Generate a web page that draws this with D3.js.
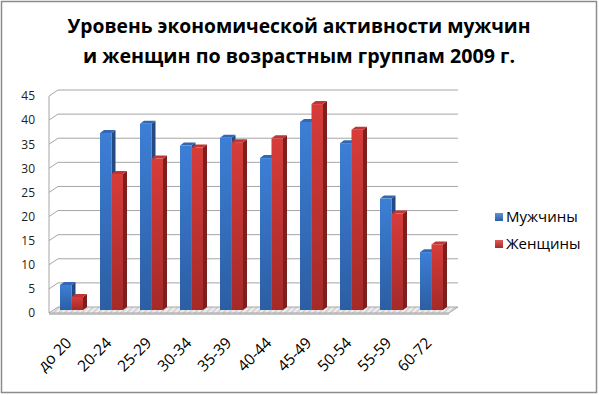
<!DOCTYPE html>
<html>
<head>
<meta charset="utf-8">
<script src="https://cdn.jsdelivr.net/npm/d3@7"></script>
<style>
  body { margin: 0; background: #fff; }
  svg { display: block; }
</style>
</head>
<body>
<svg id="chart" width="599" height="395"></svg>
<script>
const categories = ["до 20", "20-24", "25-29", "30-34", "35-39", "40-44", "45-49", "50-54", "55-59", "60-72"];
const men   = [5.2, 36.7, 38.6, 34.1, 35.7, 31.5, 39.0, 34.6, 23.1, 12.0];
const women = [2.7, 28.2, 31.4, 33.7, 34.8, 35.6, 42.7, 37.4, 20.0, 13.6];
const seriesNames = ["Мужчины", "Женщины"];
const yTicks = [0, 5, 10, 15, 20, 25, 30, 35, 40, 45];
const titleLines = ["Уровень экономической активности мужчин", "и женщин по возрастным группам 2009 г."];

const vis = {

    svg : d3.select("#chart"),

    font : "'Open Sans', 'Noto Sans', sans-serif",

    // front edge of the walls, depth of the walls and of the bars
    plot : { left : 49, right : 449, top0 : 313, depth : { dx : 9, dy : -6 }, bar : { dx : 4, dy : -3 } },

    scales : {

        x : null,
        sub : null,
        y : null,

        build : function() {

            const p = vis.plot;

            this.x = d3.scaleBand()
                .domain(categories)
                .range([p.left + 2.5, p.right + 2.5])
                .paddingInner(0.425)
                .paddingOuter(0.2125);

            this.sub = d3.scaleBand()
                .domain(seriesNames)
                .range([0, this.x.bandwidth()]);

            this.y = d3.scaleLinear()
                .domain([0, 45])
                .range([p.top0, 96]);
        }
    },

    defs : function() {

        const defs = this.svg.append("defs");

        const grads = [
            { id : "blueFront", c : ["#3d7fd6", "#2c5ea3"] },
            { id : "redFront", c : ["#d63c3a", "#a42a28"] },
            { id : "blueKey", c : ["#5b93dc", "#2c5ea3"] },
            { id : "redKey", c : ["#e05a57", "#a42a28"] }
        ];

        grads.forEach(g => {
            const lg = defs.append("linearGradient")
                .attr("id", g.id)
                .attr("x1", 0).attr("y1", 0).attr("x2", 0).attr("y2", 1);
            lg.append("stop").attr("offset", "0%").attr("stop-color", g.c[0]);
            lg.append("stop").attr("offset", "100%").attr("stop-color", g.c[1]);
        });

        const pat = defs.append("pattern")
            .attr("id", "floorHatch")
            .attr("width", 4).attr("height", 4)
            .attr("patternUnits", "userSpaceOnUse")
            .attr("patternTransform", "rotate(45)");
        pat.append("rect").attr("width", 4).attr("height", 4).attr("fill", "#d4d4d4");
        pat.append("rect").attr("width", 2).attr("height", 4).attr("fill", "#eeeeee");
    },

    frame : function() {

        this.svg.append("rect")
            .attr("x", 1.5).attr("y", 1.5)
            .attr("width", 595).attr("height", 391)
            .attr("fill", "#fff")
            .attr("stroke", "#8c8c8c")
            .attr("stroke-width", 1.5);
    },

    title : function() {

        this.svg.append("g")
            .selectAll("text")
            .data(titleLines)
            .join("text")
            .attr("x", 299)
            .attr("y", (d, i) => 33 + i * 30)
            .attr("text-anchor", "middle")
            .attr("font-family", this.font)
            .attr("font-weight", "bold")
            .attr("font-size", 20)
            .attr("textLength", (d, i) => i === 0 ? 463 : 432)
            .attr("lengthAdjust", "spacingAndGlyphs")
            .attr("fill", "#000")
            .text(d => d);
    },

    walls : function() {

        const p = this.plot, y = this.scales.y, d = p.depth;
        const g = this.svg.append("g");

        // floor
        g.append("polygon")
            .attr("points", [
                [p.left, y(0)], [p.right, y(0)],
                [p.right + d.dx, y(0) + d.dy], [p.left + d.dx, y(0) + d.dy]
            ].join(" "))
            .attr("fill", "url(#floorHatch)")
            .attr("stroke", "#a6a6a6")
            .attr("stroke-width", 1);

        g.append("line")
            .attr("x1", p.left).attr("x2", p.right)
            .attr("y1", y(0) + 1).attr("y2", y(0) + 1)
            .attr("stroke", "#b3b3b3").attr("stroke-width", 1.5);

        // grid lines on side and back wall
        const grid = yTicks.filter(t => t > 0);

        g.selectAll(".gside")
            .data(grid)
            .join("line")
            .attr("x1", p.left).attr("y1", t => y(t))
            .attr("x2", p.left + d.dx).attr("y2", t => y(t) + d.dy)
            .attr("stroke", "#a6a6a6");

        g.selectAll(".gback")
            .data(grid)
            .join("line")
            .attr("x1", p.left + d.dx).attr("y1", t => y(t) + d.dy)
            .attr("x2", p.right + d.dx).attr("y2", t => y(t) + d.dy)
            .attr("stroke", "#a6a6a6");

        g.append("line")
            .attr("x1", p.left).attr("x2", p.left)
            .attr("y1", y(45)).attr("y2", y(0))
            .attr("stroke", "#a6a6a6");
    },

    axes : function() {

        const p = this.plot, s = this.scales;

        const yAxis = this.svg.append("g")
            .attr("transform", "translate(" + (p.left - 10) + ",0)")
            .call(d3.axisLeft(s.y).tickValues(yTicks).tickSize(0).tickPadding(4));

        yAxis.select(".domain").remove();
        yAxis.selectAll("text")
            .attr("font-family", this.font)
            .attr("font-size", 12)
            .attr("fill", "#222");

        const xAxis = this.svg.append("g")
            .call(d3.axisBottom(s.x).tickSize(0));

        xAxis.select(".domain").remove();
        xAxis.selectAll("text")
            .attr("font-family", this.font)
            .attr("font-size", 15.5)
            .attr("fill", "#000")
            .attr("text-anchor", "end")
            .attr("y", 0)
            .attr("dy", 0)
            .attr("transform", "translate(1," + (p.top0 + 31) + ") rotate(-45)");
    },

    bars : function() {

        const s = this.scales, b = this.plot.bar;
        const base = this.plot.top0 + b.dy;
        const w = s.sub.bandwidth();

        const rows = [];
        categories.forEach((c, i) => {
            rows.push({ cat : c, key : seriesNames[0], v : men[i], front : "url(#blueFront)", top : "#3267b4", side : "#234a83" });
            rows.push({ cat : c, key : seriesNames[1], v : women[i], front : "url(#redFront)", top : "#c43432", side : "#7c1f1d" });
        });

        const g = this.svg.append("g");

        const bar = g.selectAll("g.bar")
            .data(rows)
            .join("g")
            .attr("class", "bar");

        const x0 = d => s.x(d.cat) + s.sub(d.key);
        const yt = d => s.y(d.v) + b.dy;

        bar.append("polygon")
            .attr("points", d => [
                [x0(d) + w, yt(d)], [x0(d) + w + b.dx, yt(d) + b.dy],
                [x0(d) + w + b.dx, base + b.dy], [x0(d) + w, base]
            ].join(" "))
            .attr("fill", d => d.side);

        bar.append("polygon")
            .attr("points", d => [
                [x0(d), yt(d)], [x0(d) + b.dx, yt(d) + b.dy],
                [x0(d) + w + b.dx, yt(d) + b.dy], [x0(d) + w, yt(d)]
            ].join(" "))
            .attr("fill", d => d.top);

        bar.append("rect")
            .attr("x", d => x0(d))
            .attr("y", d => yt(d))
            .attr("width", w)
            .attr("height", d => base - yt(d))
            .attr("fill", d => d.front);
    },

    legend : function() {

        const g = this.svg.append("g").attr("transform", "translate(495,217)");
        const fills = ["url(#blueKey)", "url(#redKey)"];

        const item = g.selectAll("g")
            .data(seriesNames)
            .join("g")
            .attr("transform", (d, i) => "translate(0," + i * 27 + ")");

        item.append("rect")
            .attr("x", 0).attr("y", -4)
            .attr("width", 8).attr("height", 8)
            .attr("fill", (d, i) => fills[i]);

        item.append("text")
            .attr("x", 11)
            .attr("dy", "0.35em")
            .attr("font-family", this.font)
            .attr("font-size", 15)
            .attr("fill", "#000")
            .text(d => d);
    },

    ctrl : {

        init : function() {
            vis.scales.build();
            vis.defs();
            vis.frame();
            vis.title();
            vis.walls();
            vis.bars();
            vis.axes();
            vis.legend();
        }
    }
};

vis.ctrl.init();
</script>
</body>
</html>
